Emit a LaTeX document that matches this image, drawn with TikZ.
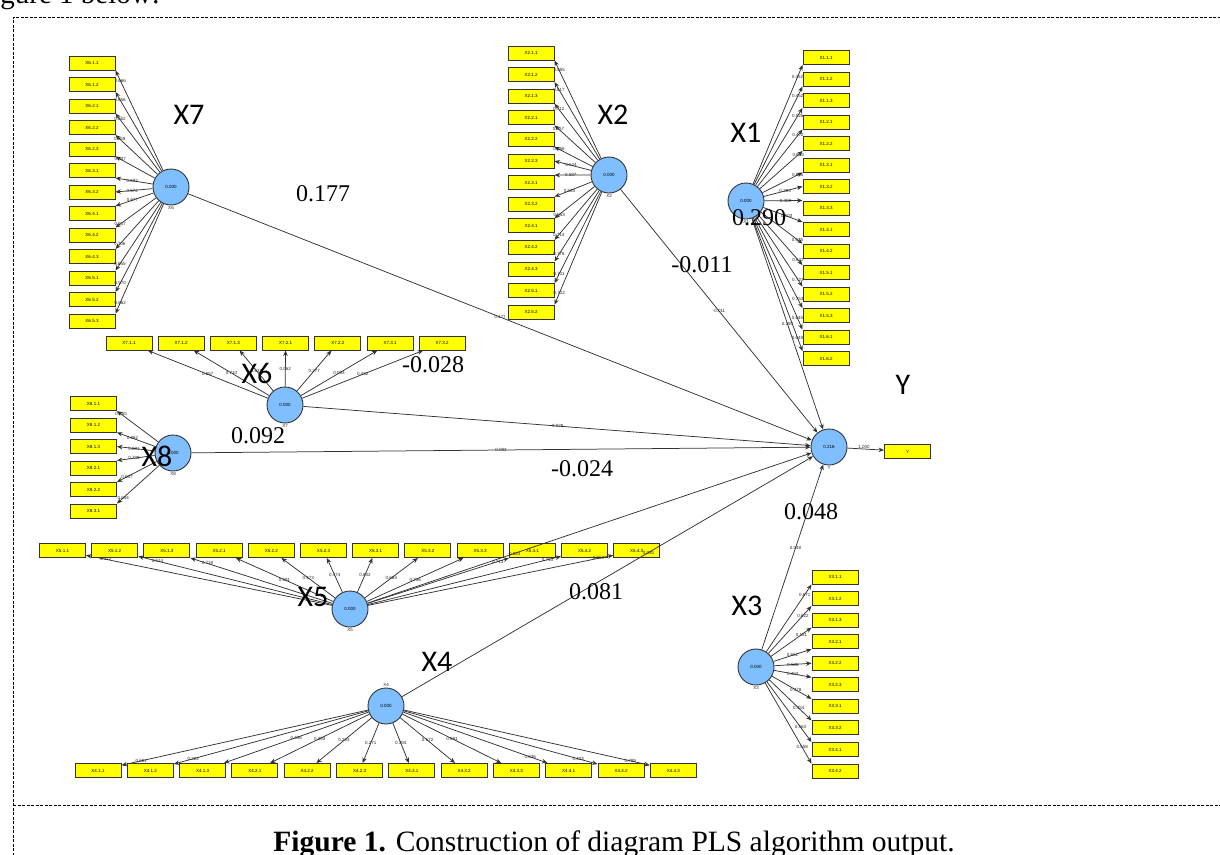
\documentclass[tikz,border=0pt]{standalone}
\usepackage{fontspec}
\setmainfont{Liberation Serif}
\newfontfamily\calib{Carlito}
\newfontfamily\arl{Liberation Sans}
\usetikzlibrary{arrows.meta}
\definecolor{lvblue}{HTML}{7FBFFF}
\definecolor{boxyellow}{HTML}{FFFF00}
\definecolor{lnc}{HTML}{333333}
\begin{document}
\begin{tikzpicture}[x=1pt,y=-1pt,
 lv/.style={circle,draw=lnc,line width=0.9pt,fill=lvblue,minimum size=36pt,inner sep=0pt,font=\arl\fontsize{4.5}{5}\selectfont},
 ind/.style={rectangle,draw=lnc,line width=1pt,fill=boxyellow,minimum width=46pt,minimum height=14pt,inner sep=0pt,font=\arl\fontsize{4.5}{5}\selectfont},
 arr/.style={draw=lnc,line width=0.75pt,-{Stealth[length=5.5pt,width=4.5pt]}},
 ld/.style={font=\arl\fontsize{4.5}{5}\selectfont,inner sep=0.3pt,text=black!85},
 nm/.style={font=\arl\fontsize{4.5}{5}\selectfont,inner sep=0.5pt,text=black!85},
 big/.style={font=\calib\fontsize{30}{32}\selectfont,inner sep=0pt},
 coef/.style={font=\fontsize{24}{26}\selectfont,inner sep=0pt},
 frm/.style={draw=black,line width=0.8pt,dash pattern=on 3pt off 1.5pt}]

\useasboundingbox (0,0) rectangle (1220,854);
\clip (0,0) rectangle (1220,854);

% latent variables
\node[lv] (cX7) at (171,187) {0.000};
\node[lv] (cX2) at (609,175) {0.000};
\node[lv] (cX1) at (746,201) {0.000};
\node[lv] (cX6) at (285,405) {0.000};
\node[lv] (cX8) at (173,453) {0.000};
\node[lv] (cX5) at (350,609) {0.000};
\node[lv] (cX4) at (386,706) {0.000};
\node[lv] (cX3) at (756,667) {0.000};
\node[lv] (cY)  at (829,447) {0.216};

\node[nm,anchor=north] (nX7) at (cX7.south) {X6};
\node[nm,anchor=north] (nX2) at (cX2.south) {X2};
\node[nm,anchor=north] (nX1) at (cX1.south) {X1};
\node[nm,anchor=north] (nX6) at (cX6.south) {X7};
\node[nm,anchor=north] (nX8) at (cX8.south) {X8};
\node[nm,anchor=north] (nX5) at (cX5.south) {X5};
\node[nm,anchor=south] (nX4) at (cX4.north) {X4};
\node[nm,anchor=north] (nX3) at (cX3.south) {X3};
\node[nm,anchor=north] (nY)  at (cY.south) {Y};

% X7 block (left top)
\foreach \t/\v/\a/\p [count=\i from 0] in {X6.1.1/0.666/south east/0.9, X6.1.2/0.656/south east/0.9, X6.2.1/0.662/south east/0.9, X6.2.2/0.659/south east/0.9, X6.2.3/0.647/south east/0.88, X6.3.1/0.592/south east/0.55, X6.3.2/0.572/east/0.55, X6.4.1/0.677/north east/0.55, X6.4.2/0.717/north east/0.88, X6.4.3/0.706/north east/0.9, X6.5.1/0.655/north east/0.9, X6.5.2/0.570/north east/0.9, X6.5.3/0.662/north east/0.9}{
  \node[ind] (bA\i) at (92,{63+21.5*\i}) {\t};
  \draw[arr] (cX7) -- node[ld,pos=\p]{\v} (bA\i.\a);
}

% X2 block
\foreach \t/\v/\a/\p [count=\i from 0] in {X2.1.1/0.655/south east/0.9, X2.1.2/0.617/south east/0.9, X2.1.3/0.712/south east/0.9, X2.2.1/0.657/south east/0.9, X2.2.2/0.666/south east/0.88, X2.2.3/0.624/east/0.55, X2.3.1/0.587/north east/0.55, X2.3.2/0.534/north east/0.6, X2.4.1/0.653/north east/0.88, X2.4.2/0.714/north east/0.9, X2.4.3/0.776/north east/0.9, X2.5.1/0.711/north east/0.9, X2.5.2/0.712/north east/0.9}{
  \node[ind] (bB\i) at (531,{53+21.6*\i}) {\t};
  \draw[arr] (cX2) -- node[ld,pos=\p]{\v} (bB\i.\a);
}

% X1 block
\foreach \t/\v/\a/\p [count=\i from 0] in {X1.1.1/0.452/south west/0.9, X1.1.2/0.452/south west/0.9, X1.1.3/0.526/south west/0.9, X1.2.1/0.472/south west/0.9, X1.2.2/0.686/south west/0.9, X1.3.1/0.685/south west/0.88, X1.3.2/0.393/west/0.55, X1.3.3/0.308/north west/0.55, X1.4.1/0.503/north west/0.6, X1.4.2/0.625/north west/0.88, X1.5.1/0.622/north west/0.9, X1.5.2/0.723/north west/0.9, X1.5.3/0.753/north west/0.9, X1.6.1/0.645/north west/0.9, X1.6.2/0.648/north west/0.9}{
  \node[ind] (bC\i) at (826,{57.5+21.5*\i}) {\t};
  \draw[arr] (cX1) -- node[ld,pos=\p]{\v} (bC\i.\a);
}

% X6 row (top middle)
\foreach \t/\v [count=\i from 0] in {X7.1.1/0.657, X7.1.2/0.710, X7.1.3/0.632, X7.2.1/0.062, X7.2.2/0.277, X7.3.1/0.093, X7.3.2/0.432}{
  \node[ind] (bD\i) at ({129+52.2*\i},343) {\t};
  \draw[arr] (cX6) -- node[ld,pos=0.5]{\v} (bD\i);
}

% X8 block
\foreach \t/\v/\a/\p [count=\i from 0] in {X8.1.1/0.655/south east/0.9, X8.1.2/0.882/south east/0.6, X8.1.3/0.831/east/0.55, X8.2.1/0.708/north east/0.55, X8.2.2/0.657/north east/0.75, X8.3.1/0.644/north east/0.85}{
  \node[ind] (bE\i) at (93.5,{403.5+21.5*\i}) {\t};
  \draw[arr] (cX8) -- node[ld,pos=\p]{\v} (bE\i.\a);
}

% X5 row
\foreach \t/\v/\p [count=\i from 0] in {X5.1.1/0.512/0.92, X5.1.2/0.514/0.9, X5.1.3/0.718/0.88, X5.2.1/0.591/0.5, X5.2.2/0.473/0.5, X5.2.3/0.474/0.5, X5.3.1/0.832/0.5, X5.3.2/0.663/0.5, X5.3.3/0.736/0.5, X5.4.1/0.713/0.92, X5.4.2/0.713/0.93, X5.4.3/0.553/0.94}{
  \node[ind] (bF\i) at ({62.5+52.2*\i},550.5) {\t};
  \draw[arr] (cX5) -- node[ld,pos=\p]{\v} (bF\i);
}

% X4 row
\foreach \t/\v/\p [count=\i from 0] in {X4.1.1/0.601/0.92, X4.1.2/0.222/0.9, X4.1.3/0.436/0.5, X4.2.1/0.453/0.5, X4.2.2/0.233/0.5, X4.2.3/0.271/0.5, X4.3.1/0.394/0.5, X4.3.2/0.672/0.5, X4.3.3/0.691/0.5, X4.4.1/0.636/0.88, X4.4.2/0.433/0.9, X4.4.3/0.789/0.92}{
  \node[ind] (bG\i) at ({98+52.3*\i},770.5) {\t};
  \draw[arr] (cX4) -- node[ld,pos=\p]{\v} (bG\i);
}

% X3 block
\foreach \t/\v/\a/\p [count=\i from 0] in {X3.1.1/0.671/south west/0.85, X3.1.2/0.622/south west/0.8, X3.1.3/0.151/south west/0.75, X3.2.1/0.651/south west/0.5, X3.2.2/0.538/west/0.5, X3.2.3/0.463/north west/0.5, X3.3.1/0.378/north west/0.6, X3.3.2/0.454/north west/0.7, X3.4.1/0.563/north west/0.75, X3.4.2/0.558/north west/0.8}{
  \node[ind] (bH\i) at (835,{577+21.56*\i}) {\t};
  \draw[arr] (cX3) -- node[ld,pos=\p]{\v} (bH\i.\a);
}

% Y indicator
\node[ind] (bY) at (907.5,451.5) {Y};
\draw[arr] (cY) -- node[ld,pos=0.45,above=0pt]{1.000} (bY);

% structural paths
\draw[arr] (cX7) -- node[ld,pos=0.5]{0.177} (cY);
\draw[arr] (cX2) -- node[ld,pos=0.5]{-0.011} (cY);
\draw[arr] (cX1) -- node[ld,pos=0.5]{0.290} (cY);
\draw[arr] (cX6) -- node[ld,pos=0.5]{-0.028} (cY);
\draw[arr] (cX8) -- node[ld,pos=0.5]{0.092} (cY);
\draw[arr] (cX5) -- node[ld,pos=0.33]{-0.024} (cY);
\draw[arr] (cX4) -- node[ld,pos=0.6]{0.081} (cY);
\draw[arr] (cX3) -- node[ld,pos=0.55]{0.048} (cY);

% big labels
\node[big] (LX7) at (189,115) {X7};
\node[big] (LX2) at (613,115) {X2};
\node[big] (LX1) at (746,133) {X1};
\node[big] (LX6) at (257,373) {X6};
\node[big] (LX8) at (157,456) {X8};
\node[big] (LX5) at (313,597) {X5};
\node[big] (LX4) at (437,662) {X4};
\node[big] (LX3) at (747,606) {X3};
\node[big] (LY)  at (903,385) {Y};

\node[coef] (k1) at (323,194) {0.177};
\node[coef] (k2) at (702,265) {-0.011};
\node[coef] (k3) at (759,218) {0.290};
\node[coef] (k4) at (433,365) {-0.028};
\node[coef] (k5) at (258,436) {0.092};
\node[coef] (k6) at (582,469) {-0.024};
\node[coef] (k7) at (811,512) {0.048};
\node[coef] (k8) at (596,592) {0.081};

% frame and captions
\draw[frm] (13,860) -- (13,17) -- (1230,17);
\draw[frm] (13,805) -- (1230,805);
\node[anchor=base east,font=\fontsize{29}{31}\selectfont,inner sep=0pt] (top) at (160,3) {Figure 1 below:};
\node[font=\fontsize{29.5}{31}\selectfont,inner sep=0pt] (cap) at (614,844) {\textbf{Figure 1.} Construction of diagram PLS algorithm output.};
\end{tikzpicture}
\end{document}
